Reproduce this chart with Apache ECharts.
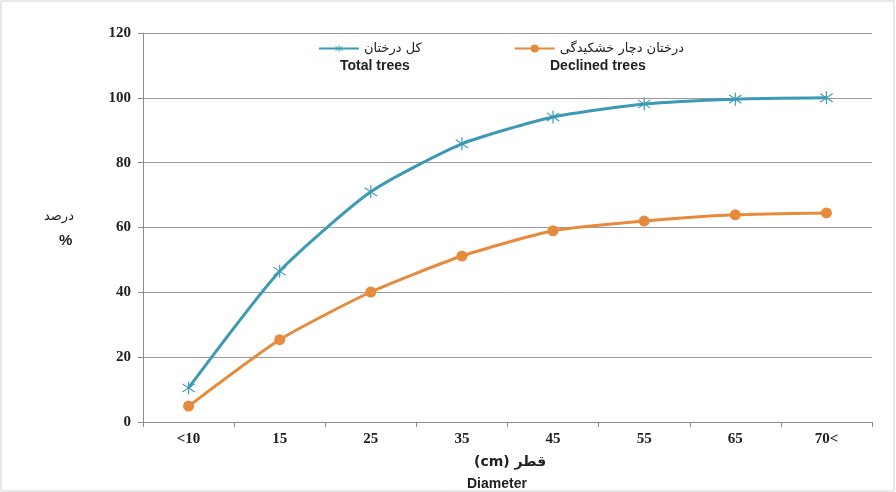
<!DOCTYPE html>
<html><head><meta charset="utf-8">
<script src="https://cdn.jsdelivr.net/npm/echarts@6/dist/echarts.min.js"></script>
<style>html,body{margin:0;padding:0;background:#fff}#c{width:896px;height:492px}</style>
</head><body><div id="c"></div>
<script>
const categories = ['<10','15','25','35','45','55','65','70<'];
const totalTrees = [10.5, 46.5, 71, 85.8, 94.1, 98.1, 99.6, 100];
const declinedTrees = [4.9, 25.4, 40.1, 51.2, 59, 62, 63.9, 64.5];
const yTicks = {min: 0, max: 120, interval: 20};
const seriesNames = ['کل درختان', 'درختان دچار خشکیدگی'];

const asterisk = 'path://M4.6,0 L5.4,0 L5.4,10 L4.6,10 Z M0.6,2.2 L1.0,1.5 L9.4,7.8 L9.0,8.5 Z M0.6,7.8 L9.0,1.5 L9.4,2.2 L1.0,8.5 Z';

const chart = echarts.init(document.getElementById('c'));
chart.setOption({
  animation: false,
  backgroundColor: '#fff',
  grid: {left: 143, right: 24, top: 33, bottom: 70},
  legend: {
    top: 37, left: 313, itemGap: 92, itemWidth: 40, itemHeight: 10,
    textStyle: {fontFamily: 'DejaVu Sans', fontSize: 13, color: '#222'},
    data: seriesNames
  },
  xAxis: {
    type: 'category', data: categories, boundaryGap: true,
    axisLine: {lineStyle: {color: '#8c8c8c', width: 1}},
    axisTick: {show: true, length: 5, lineStyle: {color: '#8c8c8c'}},
    axisLabel: {margin: 10, fontFamily: 'Liberation Serif', fontWeight: 'bold', fontSize: 15, color: '#222'}
  },
  yAxis: {
    type: 'value', min: yTicks.min, max: yTicks.max, interval: yTicks.interval,
    axisLine: {show: true, lineStyle: {color: '#8c8c8c'}},
    axisTick: {show: true, length: 5, lineStyle: {color: '#8c8c8c'}},
    splitLine: {lineStyle: {color: '#9a9a9a', width: 1}},
    axisLabel: {margin: 12, fontFamily: 'Liberation Serif', fontWeight: 'bold', fontSize: 15, color: '#222'}
  },
  series: [
    {name: seriesNames[0], type: 'line', data: totalTrees, smooth: 0.2,
     symbol: asterisk, symbolSize: 13, showAllSymbol: true,
     lineStyle: {color: '#3c9ab4', width: 3}, itemStyle: {color: '#3c9ab4'}},
    {name: seriesNames[1], type: 'line', data: declinedTrees, smooth: 0.2,
     symbol: 'circle', symbolSize: 11,
     lineStyle: {color: '#e68a3c', width: 3}, itemStyle: {color: '#e68a3c'}}
  ],
  graphic: [
    {type: 'rect', shape: {x: 1, y: 1, width: 893, height: 490}, style: {fill: 'none', stroke: '#cfcfcf', lineWidth: 1}, silent: true, z: -1},
    {type: 'text', left: 340, top: 59, style: {text: 'Total trees', font: 'bold 14px "Liberation Sans"', fill: '#222'}},
    {type: 'text', left: 550, top: 59, style: {text: 'Declined trees', font: 'bold 14px "Liberation Sans"', fill: '#222'}},
    {type: 'text', left: 44, top: 210, style: {text: 'درصد', font: '13px "DejaVu Sans"', fill: '#222'}},
    {type: 'text', left: 59, top: 233, style: {text: '%', font: 'bold 15px "Liberation Sans"', fill: '#222'}},
    {type: 'text', left: 474, top: 455, style: {text: '(cm) قطر', font: 'bold 14px "DejaVu Sans"', fill: '#222'}},
    {type: 'text', left: 467, top: 477, style: {text: 'Diameter', font: 'bold 14px "Liberation Sans"', fill: '#222'}}
  ]
});
</script></body></html>
